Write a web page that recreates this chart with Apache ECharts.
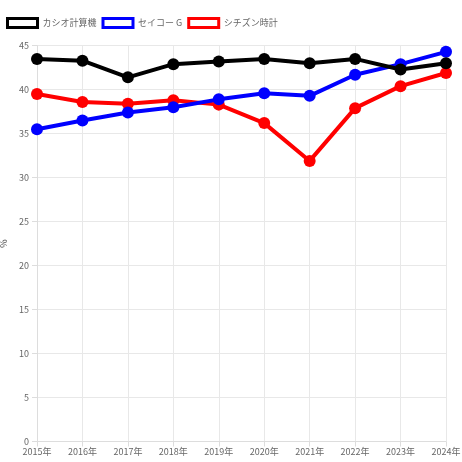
<!DOCTYPE html>
<html><head><meta charset="utf-8">
<script src="https://cdn.jsdelivr.net/npm/echarts@6/dist/echarts.min.js"></script>
<style>html,body{margin:0;padding:0;background:#fff}#c{width:462px;height:462px}</style>
</head><body><div id="c"></div>
<script>
const years = ['2015年','2016年','2017年','2018年','2019年','2020年','2021年','2022年','2023年','2024年'];
const casio = [43.5, 43.3, 41.4, 42.9, 43.2, 43.5, 43.0, 43.5, 42.3, 43.0];
const seiko = [35.5, 36.5, 37.4, 38.0, 38.9, 39.6, 39.3, 41.7, 42.9, 44.3];
const citizen = [39.5, 38.6, 38.4, 38.8, 38.3, 36.2, 31.9, 37.9, 40.4, 41.9];
const names = ['カシオ計算機','セイコー G','シチズン時計'];
const colors = ['#000000','#0000ff','#ff0000'];
const values = [casio, seiko, citizen];

const chart = echarts.init(document.getElementById('c'), null, {renderer:'canvas'});
const font = 'Noto Sans CJK JP, sans-serif';
chart.setOption({
  animation:false,
  textStyle:{fontFamily:font},
  legend:{
    left:1, top:12, itemWidth:30, itemHeight:9, itemGap:5, icon:'rect',
    textStyle:{color:'#666', fontSize:9, padding:[0,0,0,0]},
    data: names.map((n,i)=>({name:n, itemStyle:{color:'#fff', borderColor:colors[i], borderWidth:3}}))
  },
  grid:{left:37, right:16, top:45.7, bottom:20.5, containLabel:false, outerBoundsMode:'none'},
  xAxis:{
    type:'category', data:years, boundaryGap:false,
    axisLine:{lineStyle:{color:'#ddd'}},
    axisTick:{show:true, length:5, lineStyle:{color:'#ddd'}},
    axisLabel:{color:'#666', fontSize:9, margin:6},
    splitLine:{show:true, lineStyle:{color:'#e8e8e8'}}
  },
  yAxis:{
    type:'value', min:0, max:45, interval:5,
    name:'%', nameLocation:'middle', nameGap:25, nameRotate:90,
    nameTextStyle:{color:'#444', fontSize:9},
    axisLine:{show:true, lineStyle:{color:'#ddd'}},
    axisTick:{show:true, length:5, lineStyle:{color:'#ddd'}},
    axisLabel:{color:'#666', fontSize:9, margin:8},
    splitLine:{show:true, lineStyle:{color:'#e8e8e8'}}
  },
  series: names.map((n,i)=>({
    name:n, type:'line', data:values[i], z:10-i,
    symbol:'circle', symbolSize:12,
    lineStyle:{width:4, color:colors[i]},
    itemStyle:{color:colors[i]}
  }))
});
</script></body></html>
